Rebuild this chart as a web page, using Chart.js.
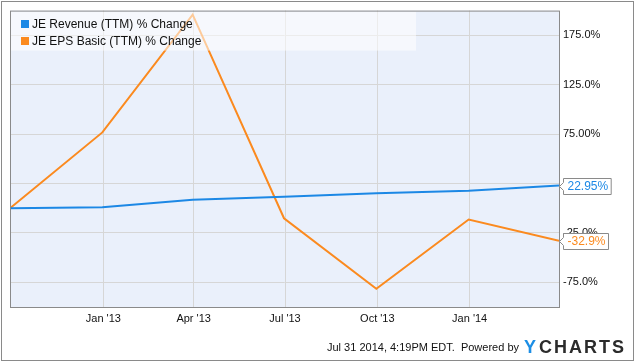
<!DOCTYPE html>
<html>
<head>
<meta charset="utf-8">
<script src="https://cdn.jsdelivr.net/npm/chart.js@4/dist/chart.umd.min.js"></script>
<style>
  html, body { margin: 0; padding: 0; background: #fff; }
  canvas { display: block; }
</style>
</head>
<body>
<canvas id="chart" width="635" height="362"></canvas>
<script>
// quarter-end dates of the TTM figures
const dates = ['2012-09-30', '2012-12-31', '2013-03-31', '2013-06-30', '2013-09-30', '2013-12-31', '2014-03-31'];
const revenueChange = [0, 0.9, 8.6, 11.7, 15.1, 17.7, 22.95];
const epsChange = [0, 76.7, 195.9, -10.2, -81.6, -11.5, -32.9];

const seriesNames = ['JE Revenue (TTM) % Change', 'JE EPS Basic (TTM) % Change'];
const seriesColors = ['#1c88e5', '#fb8a1f'];
const lastLabels = ['22.95%', '-32.9%'];

const xTickDates = ['2013-01-01', '2013-04-01', '2013-07-01', '2013-10-01', '2014-01-01'];
const xTickLabels = ["Jan '13", "Apr '13", "Jul '13", "Oct '13", "Jan '14"];
const yTickValues = [-75, -25, 25, 75, 125, 175];
const yTickLabels = ['-75.0%', '-25.0%', '25.0%', '75.00%', '125.0%', '175.0%'];

const FONT = '"Liberation Sans", Arial, sans-serif';
const toX = d => Date.parse(d + 'T00:00:00Z');

function points(vals) {
    return vals.map((v, i) => ({ x: toX(dates[i]), y: v }));
}

const frame = {
    id: 'frame',
    beforeDraw(chart) {
        const { ctx, chartArea: a } = chart;
        ctx.save();
        ctx.fillStyle = '#fff';
        ctx.fillRect(0, 0, chart.width, chart.height);
        ctx.fillStyle = '#eaf0fb';
        ctx.fillRect(a.left, a.top, a.right - a.left, a.bottom - a.top);
        ctx.restore();
    },
    afterDatasetsDraw(chart) {
        const { ctx, chartArea: a } = chart;
        ctx.save();
        // legend box, semi transparent over the lines
        ctx.fillStyle = 'rgba(255,255,255,0.55)';
        ctx.fillRect(a.left + 1, a.top + 1, 405, 39);
        ctx.font = '12px ' + FONT;
        ctx.textBaseline = 'middle';
        seriesNames.forEach((name, i) => {
            const y = 24 + i * 17;
            ctx.fillStyle = seriesColors[i];
            ctx.fillRect(21, y - 4, 8, 8);
            ctx.fillStyle = '#111';
            ctx.fillText(name, 32, y + 0.5);
        });
        // plot border
        ctx.strokeStyle = '#8a8a8a';
        ctx.lineWidth = 1;
        ctx.strokeRect(a.left + 0.5, a.top + 0.5, a.right - a.left, a.bottom - a.top);
        ctx.restore();
    },
    afterDraw(chart) {
        const { ctx, chartArea: a } = chart;
        const yScale = chart.scales.y;
        ctx.save();
        // outer border
        ctx.strokeStyle = '#8a8a8a';
        ctx.lineWidth = 1;
        ctx.strokeRect(1.5, 1.5, chart.width - 3, chart.height - 3);

        // last value flags
        ctx.font = '12px ' + FONT;
        ctx.textBaseline = 'middle';
        chart.data.datasets.forEach((ds, i) => {
            const y = Math.round(yScale.getPixelForValue(ds.data[ds.data.length - 1].y)) + 0.5;
            const x0 = a.right + 0.5;
            const w = ctx.measureText(lastLabels[i]).width + 6;
            ctx.beginPath();
            ctx.moveTo(x0, y);
            ctx.lineTo(x0 + 4, y - 4);
            ctx.lineTo(x0 + 4, y - 8);
            ctx.lineTo(x0 + 5 + w, y - 8);
            ctx.lineTo(x0 + 5 + w, y + 8);
            ctx.lineTo(x0 + 4, y + 8);
            ctx.lineTo(x0 + 4, y + 4);
            ctx.closePath();
            ctx.fillStyle = '#fff';
            ctx.fill();
            ctx.strokeStyle = '#8a8a8a';
            ctx.stroke();
            ctx.fillStyle = seriesColors[i];
            ctx.fillText(lastLabels[i], x0 + 8, y + 0.5);
        });

        // footer
        ctx.fillStyle = '#111';
        ctx.font = '11px ' + FONT;
        ctx.textAlign = 'right';
        ctx.fillText('Jul 31 2014, 4:19PM EDT.  Powered by', 519, 348);
        ctx.textAlign = 'left';
        ctx.font = 'bold 18px ' + FONT;
        ctx.letterSpacing = '2px';
        ctx.fillStyle = '#1c8ee5';
        ctx.fillText('Y', 524, 348);
        ctx.fillStyle = '#2b2b2b';
        ctx.fillText('CHARTS', 539, 348);
        ctx.restore();
    }
};

new Chart(document.getElementById('chart'), {
    type: 'line',
    data: {
        datasets: [
            { label: seriesNames[0], data: points(revenueChange), borderColor: seriesColors[0], borderWidth: 2, pointRadius: 0, tension: 0 },
            { label: seriesNames[1], data: points(epsChange), borderColor: seriesColors[1], borderWidth: 2, pointRadius: 0, tension: 0 },
        ],
    },
    options: {
        responsive: false,
        animation: false,
        devicePixelRatio: 1,
        layout: { padding: { left: 10, top: 10, right: 0, bottom: 0 } },
        plugins: { legend: { display: false }, tooltip: { enabled: false } },
        scales: {
            x: {
                type: 'linear',
                min: toX(dates[0]),
                max: toX(dates[dates.length - 1]),
                afterBuildTicks: s => { s.ticks = xTickDates.map(d => ({ value: toX(d) })); },
                afterFit: s => { s.height = 55; },
                grid: { color: '#d6d6d6', drawTicks: false },
                border: { display: false },
                ticks: {
                    padding: 5,
                    maxRotation: 0,
                    autoSkip: false,
                    color: '#111',
                    font: { family: FONT, size: 11 },
                    callback: (v, i) => xTickLabels[i],
                },
            },
            y: {
                position: 'right',
                min: -100,
                max: 200,
                afterBuildTicks: s => { s.ticks = yTickValues.map(v => ({ value: v })); },
                afterFit: s => { s.width = 76; },
                grid: { color: '#d6d6d6', drawTicks: false },
                border: { display: false },
                ticks: {
                    padding: 4,
                    crossAlign: 'near',
                    autoSkip: false,
                    color: '#111',
                    font: { family: FONT, size: 11 },
                    callback: (v, i) => yTickLabels[i],
                },
            },
        },
    },
    plugins: [frame],
});
</script>
</body>
</html>
